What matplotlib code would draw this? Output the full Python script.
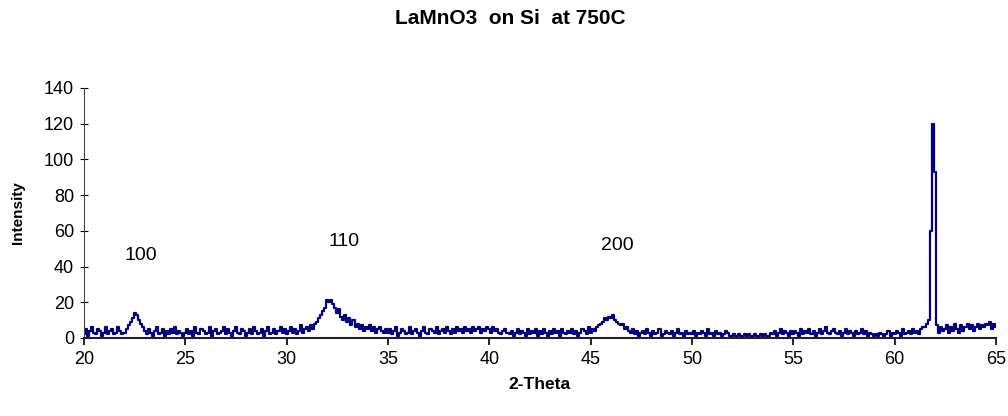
import matplotlib
matplotlib.use("Agg")
import matplotlib.pyplot as plt
import numpy as np

# 2-theta grid, 0.1 deg steps from 20 to 65
two_theta = np.round(np.arange(20.0, 65.05, 0.1), 2)

# intensity, in 5-degree blocks
i_20 = [2, 5, 1, 4, 6, 3, 2, 5, 4, 1, 3, 6, 2, 4, 5, 2, 3, 6, 4, 2,
        3, 5, 7, 9, 11, 14, 13, 10, 8, 6,
        4, 2, 5, 3, 1, 4, 6, 2, 3, 5, 1, 4, 2, 5, 3, 6, 2, 4, 3, 1]
i_25 = [3, 5, 2, 4, 1, 6, 3, 2, 5, 4, 2, 3, 6, 1, 4, 5, 2, 3, 4, 6,
        2, 5, 3, 1, 4, 6, 3, 2, 5, 4, 1, 3, 5, 2, 6, 4, 2, 3, 5, 1,
        4, 6, 2, 3, 5, 2, 4, 6, 3, 5]
i_30 = [2, 4, 6, 3, 5, 2, 4, 7, 3, 5, 6, 4, 7, 5, 8,
        9, 11, 13, 15, 17, 21, 20, 21, 19, 17, 14, 16, 12, 10, 13,
        9, 11, 7, 10, 6, 8, 5, 7, 4, 6, 5, 7, 4, 6, 3, 5, 6, 4, 3, 5]
i_35 = [3, 5, 2, 4, 6, 1, 3, 5, 4, 2, 3, 6, 2, 4, 5, 3, 1, 4, 6, 3,
        2, 5, 4, 3, 6, 2, 4, 5, 3, 6, 4, 2, 5, 3, 6, 4, 5, 3, 6, 4,
        5, 3, 6, 4, 5, 6, 3, 5, 4, 6]
i_40 = [5, 3, 6, 4, 5, 3, 2, 4, 5, 3, 2, 4, 1, 3, 5, 2, 4, 3, 1, 5,
        2, 4, 3, 5, 1, 4, 2, 5, 3, 1, 4, 2, 5, 3, 4, 1, 5, 3, 2, 4,
        3, 5, 2, 4, 1, 3, 5, 4, 2, 6]
i_45 = [3, 5, 4, 6, 7, 8, 9, 11, 10, 12, 11, 13, 10, 9, 8, 7, 8, 5, 6, 4,
        3, 5, 2, 4, 1, 3, 4, 2, 5, 3, 1, 4, 2, 3, 5, 1, 2, 4, 3, 2,
        4, 1, 3, 5, 2, 3, 1, 4, 2, 3]
i_50 = [2, 4, 1, 3, 2, 4, 3, 1, 5, 2, 3, 1, 4, 2, 3, 1, 2, 4, 3, 1,
        1, 2, 1, 2, 1, 1, 2, 1, 2, 1, 1, 2, 1, 1, 2, 1, 2, 1, 1, 3,
        2, 4, 1, 3, 5, 2, 4, 3, 1, 4]
i_55 = [2, 4, 3, 1, 5, 2, 4, 3, 5, 2, 4, 1, 3, 5, 2, 4, 6, 3, 2, 4,
        5, 3, 2, 4, 1, 3, 5, 2, 4, 3, 1, 4, 2, 3, 5, 2, 4, 1, 3, 2,
        1, 2, 1, 3, 2, 1, 2, 4, 1, 3]
i_60 = [2, 4, 3, 1, 5, 2, 3, 4, 2, 5, 3, 4, 2, 5, 6,
        6, 8, 10, 60, 120, 93, 7, 3, 6, 4,
        5, 7, 3, 6, 4, 8, 5, 3, 7, 4, 6, 8, 5, 7, 4, 6, 8, 5, 7, 6,
        8, 7, 9, 5, 8, 6]
intensity = i_20 + i_25 + i_30 + i_35 + i_40 + i_45 + i_50 + i_55 + i_60

peak_labels = ["100", "110", "200"]
label_x = [22.8, 32.85, 46.3]
label_y = [46, 54, 52]

font = "Liberation Sans"

fig = plt.figure(figsize=(10.08, 4.16), dpi=100)
ax = fig.add_axes([0.0833, 0.1875, 0.9047, 0.6010])

ax.plot(two_theta, intensity, color="#000080", lw=1.6, drawstyle="steps-mid")

for lab, lx, ly in zip(peak_labels, label_x, label_y):
    ax.text(lx, ly, lab, ha="center", va="center", fontsize=14, family=font)

ax.set_xlim(20, 65)
ax.set_ylim(0, 140)
ax.set_xticks(range(20, 66, 5))
ax.set_yticks(range(0, 141, 20))
for s in ["top", "right"]:
    ax.spines[s].set_visible(False)
ax.spines["left"].set_color("#444444")
ax.spines["bottom"].set_color("#222222")
ax.spines["bottom"].set_linewidth(1.5)
ax.tick_params(axis="y", direction="inout", length=6, labelsize=13, pad=4)
ax.tick_params(axis="x", direction="out", length=5, width=1.2, labelsize=13, pad=4)
for lbl in ax.get_xticklabels() + ax.get_yticklabels():
    lbl.set_family(font)

ax.set_xlabel("2-Theta", fontsize=12.5, fontweight="bold", family=font, labelpad=7)
ax.set_ylabel("Intensity", fontsize=11, fontweight="bold", family=font, labelpad=14)
fig.text(0.506, 0.955, "LaMnO3  on Si  at 750C", ha="center", va="center",
         fontsize=15, fontweight="bold", family=font)

fig.savefig("out.png", dpi=100)
